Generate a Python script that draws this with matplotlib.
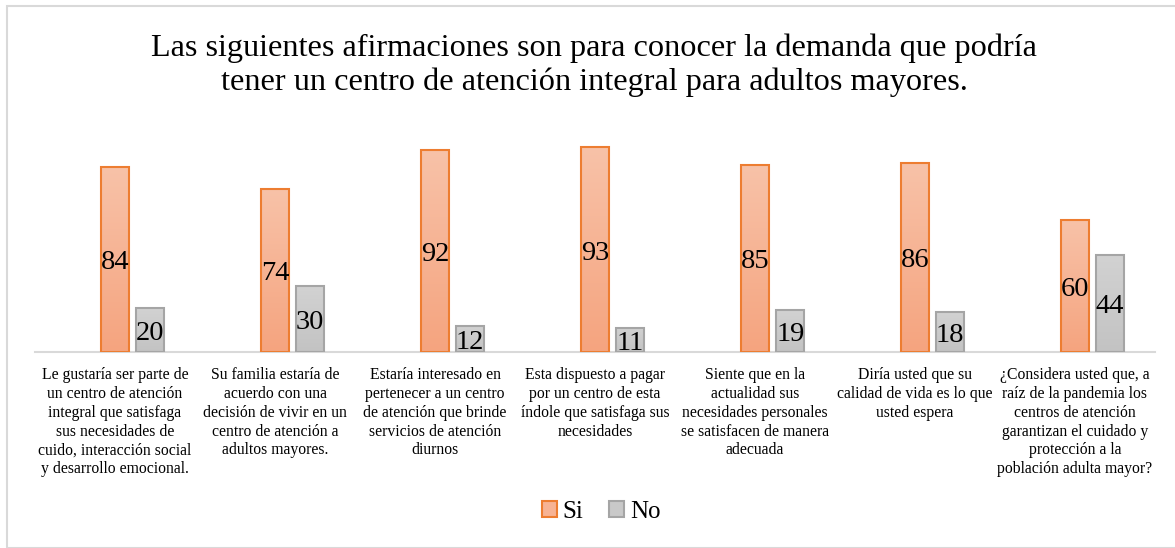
import numpy as np
import matplotlib.pyplot as plt
from matplotlib.patches import Rectangle
from matplotlib.colors import LinearSegmentedColormap

categorias = [
    "Le gustaría ser parte de\nun centro de atención\nintegral que satisfaga\nsus necesidades de\ncuido, interacción social\ny desarrollo emocional.",
    "Su familia estaría de\nacuerdo con una\ndecisión de vivir en un\ncentro de atención a\nadultos mayores.",
    "Estaría interesado en\npertenecer a un centro\nde atención que brinde\nservicios de atención\ndiurnos",
    "Esta dispuesto a pagar\npor un centro de esta\níndole que satisfaga sus\nnecesidades",
    "Siente que en la\nactualidad sus\nnecesidades personales\nse satisfacen de manera\nadecuada",
    "Diría usted que su\ncalidad de vida es lo que\nusted espera",
    "¿Considera usted que, a\nraíz de la pandemia los\ncentros de atención\ngarantizan el cuidado y\nprotección a la\npoblación adulta mayor?",
]
si = [84, 74, 92, 93, 85, 86, 60]
no = [20, 30, 12, 11, 19, 18, 44]

titulo = ("Las siguientes afirmaciones son para conocer la demanda que podría\n"
          "tener un centro de atención integral para adultos mayores.")

plt.rcParams['font.family'] = ['Liberation Serif', 'DejaVu Serif']

W, H = 1175, 548
fig = plt.figure(figsize=(W / 100, H / 100), dpi=100)

# borde del grafico
fig.patches.append(Rectangle((7 / W, 0), 1.2, 1 - 6 / H, transform=fig.transFigure,
                             fill=False, edgecolor="#D9D9D9", linewidth=1.5))

ax = fig.add_axes([35 / W, 1 - 352 / H, 1120 / W, 220 / H])

ancho = 0.175
desp = 0.22
cmap_si = LinearSegmentedColormap.from_list("si", ["#F5A47F", "#F8C2A8"])
cmap_no = LinearSegmentedColormap.from_list("no", ["#C3C3C3", "#D2D2D2"])
grad = np.linspace(0, 1, 100).reshape(-1, 1)


def barra(x, h, cmap, borde):
    im = ax.imshow(grad, cmap=cmap, origin="lower", aspect="auto",
                   extent=[x - ancho / 2, x + ancho / 2, 0, h], zorder=2)
    r = Rectangle((x - ancho / 2, 0), ancho, h, fill=False, edgecolor=borde,
                  linewidth=1.5, zorder=3)
    ax.add_patch(r)
    im.set_clip_path(r)
    ax.text(x, h / 2 - 1.5, str(h), ha="center", va="center", fontsize=20.5, zorder=4)


for i in range(len(categorias)):
    barra(i, si[i], cmap_si, "#ED7D31")
    barra(i + desp, no[i], cmap_no, "#A5A5A5")

ax.set_xlim(-0.5, len(categorias) - 0.5)
ax.set_ylim(0, 100)
ax.set_xticks(range(len(categorias)))
ax.set_xticklabels(categorias, fontsize=11.3, linespacing=1.23, va="top")
ax.tick_params(axis="x", length=0, pad=11)
ax.set_yticks([])
for s in ["top", "right", "left"]:
    ax.spines[s].set_visible(False)
ax.spines["bottom"].set_color("#D9D9D9")
ax.spines["bottom"].set_linewidth(1.5)
ax.set_facecolor("none")

fig.text(594 / W, 1 - 65 / H, titulo, ha="center", va="center", fontsize=23.2,
         linespacing=1.2)

h1 = Rectangle((0, 0), 1, 1, facecolor="#F7B394", edgecolor="#ED7D31", linewidth=1.5)
h2 = Rectangle((0, 0), 1, 1, facecolor="#C9C9C9", edgecolor="#A5A5A5", linewidth=1.5)
fig.legend([h1, h2], ["Si", "No"], loc="center", bbox_to_anchor=(601 / W, 1 - 512 / H),
           ncol=2, frameon=False, fontsize=18, handlelength=0.6, handleheight=0.6,
           handletextpad=0.25, columnspacing=1.0)

fig.savefig("out.png", dpi=100)
